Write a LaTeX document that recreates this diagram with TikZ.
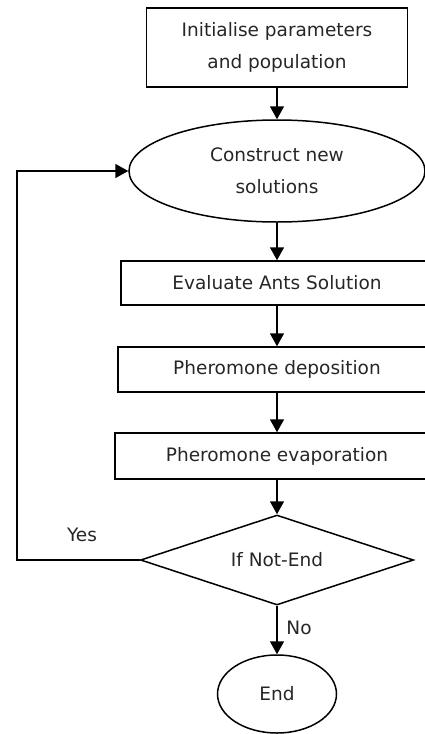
\documentclass[tikz,border=0pt]{standalone}
\usepackage{fontspec}
\setmainfont{DejaVu Sans}
\usetikzlibrary{shapes.geometric,arrows.meta}

\begin{document}
\begin{tikzpicture}[x=1pt, y=-1pt, line width=1.5pt, >={Triangle[length=13pt,width=14pt]},
    every node/.style={font=\fontsize{18.5}{32}\selectfont, align=center, text=black!85},
    process/.style={draw, rectangle, inner sep=0pt},
    decision/.style={draw, diamond, aspect=3, inner sep=0pt},
    terminal/.style={draw, ellipse, inner sep=0pt}]
    \clip (0,0) rectangle (425,734) ;

    \node [process, minimum width=261pt, minimum height=79pt] (init) at (277,47.5) {Initialise parameters\\and population} ;
    \node [terminal, minimum width=296pt, minimum height=102pt] (construct) at (277,171) {Construct new\\solutions} ;
    \node [process, minimum width=312pt, minimum height=44pt] (evaluate) at (277,283) {Evaluate Ants Solution} ;
    \node [process, minimum width=318pt, minimum height=45pt] (deposit) at (277,369.5) {Pheromone deposition} ;
    \node [process, minimum width=324pt, minimum height=46pt] (evaporate) at (277,456) {Pheromone evaporation} ;
    \node [decision, minimum width=273pt, minimum height=90pt] (check) at (277,560) {If Not-End} ;
    \node [terminal, minimum width=119pt, minimum height=78pt] (finish) at (277,694) {End} ;

    \draw [->] (init) -- (construct) ;
    \draw [->] (construct) -- (evaluate) ;
    \draw [->] (evaluate) -- (deposit) ;
    \draw [->] (deposit) -- (evaporate) ;
    \draw [->] (evaporate) -- (check) ;
    \draw [->] (check) -- (finish) ;

    % loop back when not finished
    \coordinate (loop) at (17,560) ;
    \draw [->] (check.west) -- (loop) |- (construct.west) ;
    \node (yes) at (82,535) {Yes} ;
    \node (no) at (299,628) {No} ;
\end{tikzpicture}
\end{document}
